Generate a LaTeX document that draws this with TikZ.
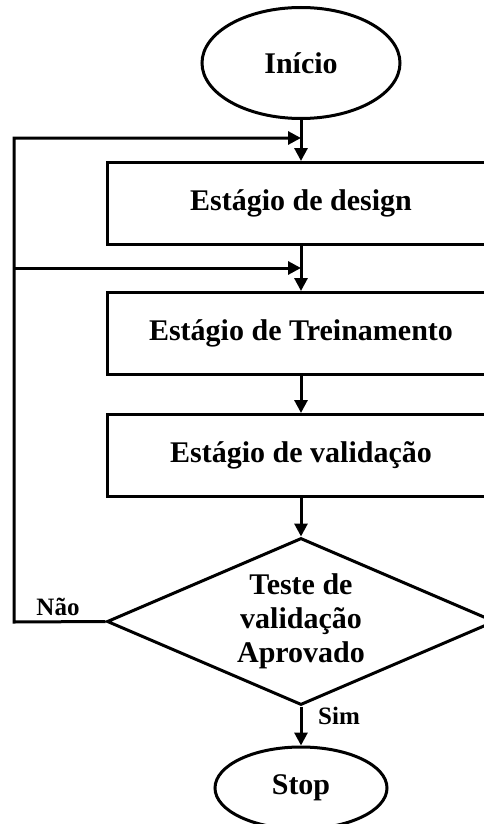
\documentclass[tikz,border=0pt]{standalone}
\usepackage{fontspec}
\setmainfont{Liberation Serif}
\usetikzlibrary{shapes.geometric,arrows.meta}

\begin{document}
\begin{tikzpicture}[x=1pt, y=-1pt,
        every node/.style={font=\bfseries\fontsize{30}{34}\selectfont, align=center},
        stage/.style={draw, line width=3pt, minimum width=388pt, minimum height=82pt, inner sep=0pt},
        term/.style={draw, ellipse, line width=3pt, inner sep=0pt},
        arr/.style={line width=3pt, -{Triangle[length=13pt, width=13pt]}}]
        \clip (0,0) rectangle (484,824);

        \node[term, minimum width=198pt, minimum height=111pt] (inicio) at (301,63) {Início};
        \node[stage] (design) at (301,203.5) {Estágio de design};
        \node[stage] (treino) at (301,333.5) {Estágio de Treinamento};
        \node[stage] (valid) at (301,455.5) {Estágio de validação};
        \node[draw, diamond, aspect=2.32, line width=3pt, minimum width=388pt, minimum height=167pt, inner sep=0pt] (teste) at (301,621.5) {Teste de\\validação\\Aprovado};
        \node[term, minimum width=172pt, minimum height=82pt] (stop) at (301,788) {Stop};

        \coordinate (jtop) at (301,138);
        \coordinate (jmid) at (301,268);
        \coordinate (ltop) at (14,138);
        \coordinate (lmid) at (14,268);
        \coordinate (lbot) at (14,622);

        \draw[arr] (inicio) -- (design);
        \draw[arr] (design) -- (treino);
        \draw[arr] (treino) -- (valid);
        \draw[arr] (valid) -- (teste);
        \draw[arr] (teste) -- (stop);

        \draw[arr] (teste.west) -- (lbot) -- (ltop) -- (jtop);
        \draw[arr] (lmid) -- (jmid);

        \node[font=\bfseries\fontsize{25}{28}\selectfont] (nao) at (58,607) {Não};
        \node[font=\bfseries\fontsize{25}{28}\selectfont] (sim) at (339,716) {Sim};
    \end{tikzpicture}
\end{document}
